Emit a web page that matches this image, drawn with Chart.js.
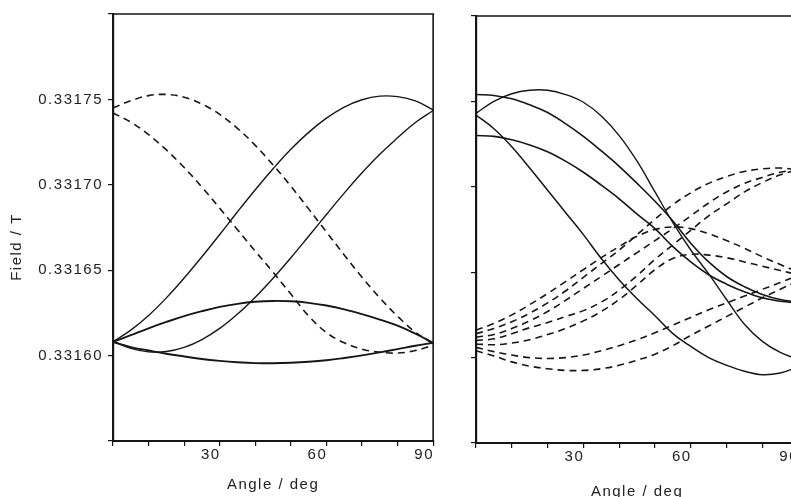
<!DOCTYPE html>
<html>
<head>
<meta charset="utf-8">
<script src="https://cdn.jsdelivr.net/npm/chart.js@4.4.1/dist/chart.umd.min.js"></script>
<style>
  html, body { margin: 0; padding: 0; background: #fff; }
  #wrap { position: relative; width: 791px; height: 497px; overflow: hidden; background: #fff; }
  #c1 { position: absolute; left: 0; top: 0; }
  #c2 { position: absolute; left: 440px; top: 0; }
</style>
</head>
<body>
<div id="wrap">
  <canvas id="c1" width="443" height="497"></canvas>
  <canvas id="c2" width="368" height="497"></canvas>
</div>
<script>
// ---------- data (field in T, angle in degrees) ----------
const angles = [0, 5, 10, 15, 20, 25, 30, 35, 40, 45, 50, 55, 60, 65, 70, 75, 80, 85, 90];
const yTickLabels = [0.33160, 0.33165, 0.33170, 0.33175];
const xTickLabels = [30, 60, 90];
const xTitle = "Angle / deg";
const yTitle = "Field / T";

// left panel – solid
const leftSolid1 = [0.3316081, 0.3316149, 0.3316235, 0.3316338, 0.3316454, 0.3316579, 0.3316709, 0.3316842, 0.3316971, 0.3317094, 0.3317208, 0.3317307, 0.3317390, 0.3317455, 0.3317498, 0.3317519, 0.3317516, 0.3317491, 0.3317438];
const leftSolid2 = [0.3316083, 0.3316042, 0.3316022, 0.3316024, 0.3316048, 0.3316094, 0.3316159, 0.3316243, 0.3316342, 0.3316453, 0.3316573, 0.3316699, 0.3316826, 0.3316951, 0.3317070, 0.3317179, 0.3317275, 0.3317365, 0.3317435];
const leftSolid3 = [0.3316080, 0.3316120, 0.3316160, 0.3316197, 0.3316231, 0.3316260, 0.3316285, 0.3316303, 0.3316315, 0.3316320, 0.3316318, 0.3316309, 0.3316293, 0.3316271, 0.3316243, 0.3316211, 0.3316175, 0.3316128, 0.3316075];
const leftSolid4 = [0.3316080, 0.3316050, 0.3316030, 0.3316011, 0.3315995, 0.3315980, 0.3315969, 0.3315961, 0.3315956, 0.3315955, 0.3315958, 0.3315964, 0.3315973, 0.3315986, 0.3316001, 0.3316019, 0.3316038, 0.3316058, 0.3316075];
// left panel – dashed
const leftDash1 = [0.3317450, 0.3317492, 0.3317522, 0.3317529, 0.3317513, 0.3317473, 0.3317412, 0.3317330, 0.3317231, 0.3317116, 0.3316992, 0.3316859, 0.3316724, 0.3316589, 0.3316459, 0.3316338, 0.3316230, 0.3316137, 0.3316070];
const leftDash2 = [0.3317420, 0.3317367, 0.3317294, 0.3317204, 0.3317101, 0.3316986, 0.3316863, 0.3316737, 0.3316611, 0.3316488, 0.3316360, 0.3316232, 0.3316135, 0.3316075, 0.3316038, 0.3316020, 0.3316015, 0.3316030, 0.3316060];

// right panel – solid
const rightSolidA = [0.3317430, 0.3317500, 0.3317545, 0.3317565, 0.3317565, 0.3317540, 0.3317495, 0.3317415, 0.3317300, 0.3317150, 0.3316970, 0.3316790, 0.3316630, 0.3316490, 0.3316340, 0.3316195, 0.3316095, 0.3316030, 0.3315990];
const rightSolidB = [0.3317540, 0.3317535, 0.3317515, 0.3317480, 0.3317435, 0.3317370, 0.3317295, 0.3317210, 0.3317120, 0.3317020, 0.3316915, 0.3316800, 0.3316670, 0.3316560, 0.3316475, 0.3316415, 0.3316370, 0.3316340, 0.3316325];
const rightSolidC = [0.3317420, 0.3317340, 0.3317235, 0.3317110, 0.3316980, 0.3316850, 0.3316720, 0.3316580, 0.3316455, 0.3316345, 0.3316245, 0.3316140, 0.3316065, 0.3316000, 0.3315955, 0.3315920, 0.3315900, 0.3315910, 0.3315945];
const rightSolidD = [0.3317300, 0.3317295, 0.3317275, 0.3317245, 0.3317205, 0.3317150, 0.3317085, 0.3317010, 0.3316930, 0.3316840, 0.3316755, 0.3316650, 0.3316560, 0.3316485, 0.3316430, 0.3316385, 0.3316350, 0.3316330, 0.3316320];
// right panel – dashed
const rightDashH1 = [0.3316160, 0.3316200, 0.3316250, 0.3316310, 0.3316375, 0.3316445, 0.3316515, 0.3316585, 0.3316650, 0.3316710, 0.3316750, 0.3316765, 0.3316755, 0.3316725, 0.3316685, 0.3316640, 0.3316590, 0.3316545, 0.3316500];
const rightDashE1 = [0.3316140, 0.3316170, 0.3316210, 0.3316260, 0.3316320, 0.3316390, 0.3316470, 0.3316550, 0.3316630, 0.3316720, 0.3316810, 0.3316895, 0.3316965, 0.3317020, 0.3317060, 0.3317090, 0.3317105, 0.3317110, 0.3317100];
const rightDashE2 = [0.3316120, 0.3316135, 0.3316170, 0.3316215, 0.3316270, 0.3316335, 0.3316405, 0.3316475, 0.3316545, 0.3316615, 0.3316685, 0.3316755, 0.3316830, 0.3316905, 0.3316970, 0.3317020, 0.3317055, 0.3317085, 0.3317100];
const rightDashE3 = [0.3316100, 0.3316110, 0.3316140, 0.3316175, 0.3316205, 0.3316240, 0.3316275, 0.3316325, 0.3316395, 0.3316480, 0.3316575, 0.3316660, 0.3316745, 0.3316830, 0.3316900, 0.3316970, 0.3317025, 0.3317070, 0.3317100];
const rightDashH2 = [0.3316080, 0.3316075, 0.3316085, 0.3316105, 0.3316135, 0.3316170, 0.3316215, 0.3316270, 0.3316340, 0.3316425, 0.3316515, 0.3316580, 0.3316605, 0.3316600, 0.3316585, 0.3316560, 0.3316535, 0.3316510, 0.3316485];
const rightDashL2 = [0.3316060, 0.3316035, 0.3316015, 0.3316000, 0.3315995, 0.3316000, 0.3316015, 0.3316040, 0.3316070, 0.3316105, 0.3316145, 0.3316190, 0.3316235, 0.3316280, 0.3316320, 0.3316360, 0.3316400, 0.3316440, 0.3316480];
const rightDashL1 = [0.3316040, 0.3316010, 0.3315975, 0.3315950, 0.3315935, 0.3315925, 0.3315925, 0.3315935, 0.3315955, 0.3315985, 0.3316020, 0.3316070, 0.3316130, 0.3316185, 0.3316240, 0.3316295, 0.3316350, 0.3316400, 0.3316450];

// ---------- helpers ----------
const INK = '#161616';
const FONT = "'Liberation Sans', Arial, sans-serif";
const SPACING = '1.5px';

function series(values, dashed, width) {
  return {
    data: angles.map((a, i) => ({ x: a, y: values[i] })),
    borderColor: INK,
    borderWidth: width || (dashed ? 1.6 : 1.4),
    borderDash: dashed ? [7, 5] : [],
    pointRadius: 0,
    tension: 0.4,
    fill: false
  };
}

const spacingPlugin = {
  id: 'spacing',
  beforeUpdate(c) { c.ctx.letterSpacing = SPACING; },
  beforeDraw(c) { c.ctx.letterSpacing = SPACING; }
};

function framePlugin(drawRight, drawYTitle) {
  return {
    id: 'frame',
    afterDraw(c) {
      const { ctx, chartArea: a } = c;
      ctx.save();
      ctx.strokeStyle = INK;
      ctx.lineWidth = 1.6;
      ctx.beginPath();
      ctx.moveTo(a.left, a.top);
      ctx.lineTo(a.right + 1, a.top);
      if (drawRight) {
        ctx.moveTo(a.right, a.top);
        ctx.lineTo(a.right, a.bottom);
      }
      ctx.stroke();
      if (drawYTitle) {
        ctx.letterSpacing = SPACING;
        ctx.fillStyle = '#222';
        ctx.font = "15px " + FONT;
        ctx.textAlign = 'center';
        ctx.textBaseline = 'middle';
        ctx.translate(17, 247);
        ctx.rotate(-Math.PI / 2);
        ctx.fillText(yTitle, 0, 0);
      }
      ctx.restore();
    }
  };
}

function makeChart(canvasId, datasets, cfg) {
  return new Chart(document.getElementById(canvasId), {
    type: 'line',
    data: { datasets },
    plugins: [spacingPlugin, framePlugin(cfg.drawRight, cfg.showYLabels)],
    options: {
      responsive: false,
      devicePixelRatio: 1,
      animation: false,
      layout: { autoPadding: false, padding: { top: cfg.top, right: cfg.right, left: 0, bottom: 0 } },
      plugins: { legend: { display: false }, tooltip: { enabled: false } },
      scales: {
        x: {
          type: 'linear', min: 0, max: 90,
          afterFit(s) { s.height = cfg.xHeight; },
          ticks: {
            stepSize: 10, autoSkip: false, maxRotation: 0,
            labelOffset: -9, padding: 0, color: '#222',
            font: { family: FONT, size: 15 },
            callback: v => xTickLabels.includes(v) ? String(v) : ''
          },
          grid: { drawOnChartArea: false, drawTicks: true, tickLength: 5, color: INK, lineWidth: 1.2 },
          border: { display: true, color: INK, width: 2 },
          title: {
            display: true, text: xTitle, color: '#222',
            font: { family: FONT, size: 15, lineHeight: 1 },
            padding: { top: 0, bottom: cfg.titleBottom }
          }
        },
        y: {
          type: 'linear', min: 0.33155, max: 0.33180,
          afterFit(s) { s.width = cfg.yWidth; },
          ticks: {
            stepSize: 0.00005, autoSkip: false, padding: 5, color: '#222',
            font: { family: FONT, size: 15 },
            callback: v => {
              if (!cfg.showYLabels) return '';
              const hit = yTickLabels.find(t => Math.abs(t - v) < 1e-7);
              return hit !== undefined ? hit.toFixed(5) : '';
            }
          },
          grid: { drawOnChartArea: false, drawTicks: true, tickLength: 5, color: INK, lineWidth: 1.2 },
          border: { display: true, color: INK, width: 2.2 }
        }
      }
    }
  });
}

// ---------- left panel ----------
makeChart('c1', [
  series(leftSolid1, false),
  series(leftSolid2, false),
  series(leftSolid3, false, 1.9),
  series(leftSolid4, false, 1.9),
  series(leftDash1, true),
  series(leftDash2, true)
], { top: 14, right: 0, xHeight: 56, yWidth: 113, titleBottom: 5, drawRight: true, showYLabels: true });

// ---------- right panel ----------
makeChart('c2', [
  series(rightSolidA, false),
  series(rightSolidB, false, 1.6),
  series(rightSolidC, false, 1.5),
  series(rightSolidD, false, 1.6),
  series(rightDashH1, true),
  series(rightDashE1, true),
  series(rightDashE2, true),
  series(rightDashE3, true),
  series(rightDashH2, true),
  series(rightDashL2, true),
  series(rightDashL1, true)
], { top: 16, right: 0, xHeight: 54, yWidth: 36, titleBottom: -2, drawRight: false, showYLabels: false });
</script>
</body>
</html>
